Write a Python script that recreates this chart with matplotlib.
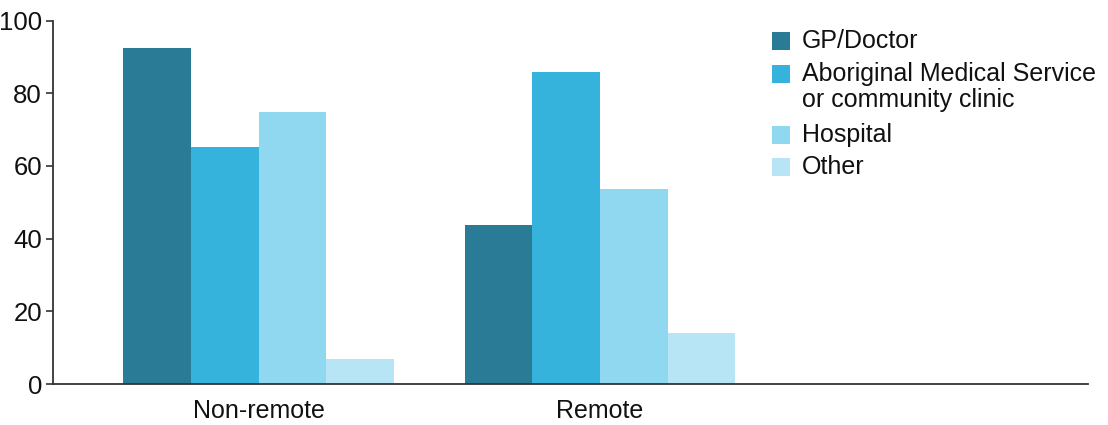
import matplotlib
matplotlib.use("Agg")
import matplotlib.pyplot as plt
import numpy as np
from matplotlib.patches import Rectangle

plt.rcParams['font.family'] = ['Liberation Sans', 'DejaVu Sans']

categories = ["Non-remote", "Remote"]
series_names = ["GP/Doctor", "Aboriginal Medical Service\nor community clinic", "Hospital", "Other"]
gp = [92.5, 43.8]
ams = [65.3, 85.9]
hospital = [74.9, 53.7]
other = [6.9, 14.0]
series_values = [gp, ams, hospital, other]
colors = ["#2a7c96", "#36b3dc", "#8fd8f0", "#b8e5f5"]
yticks = [0, 20, 40, 60, 80, 100]

W, H = 1108, 425
fig = plt.figure(figsize=(W / 100, H / 100), dpi=100)
ax = fig.add_axes([53 / W, 41 / H, (1088 - 53) / W, (404.5 - 41) / H])

x = np.arange(len(categories))
bw = 0.198
for i, (vals, c) in enumerate(zip(series_values, colors)):
    ax.bar(x + (i - 1.5) * bw, vals, width=bw, color=c, linewidth=0)

ax.set_xlim(-0.602, 2.429)
ax.set_ylim(0, 100)
ax.set_yticks(yticks)
ax.set_yticklabels([str(t) for t in yticks], fontsize=18.5, color="#111111")
ax.set_xticks(x)
ax.set_xticklabels(categories, fontsize=18, color="#111111")
ax.tick_params(axis='x', length=0, pad=11)
ax.tick_params(axis='y', length=5, width=1.2, pad=3, color="#333333")
for s in ["top", "right"]:
    ax.spines[s].set_visible(False)
for s in ["left", "bottom"]:
    ax.spines[s].set_color("#333333")
    ax.spines[s].set_linewidth(1.3)

# legend drawn manually
patch_rows = [41, 74, 135, 167]
text_rows = [41, 87, 135, 167]
for name, c, yp, yt in zip(series_names, colors, patch_rows, text_rows):
    fig.patches.append(Rectangle((772 / W, (H - yp - 9) / H), 18 / W, 18 / H,
                                 transform=fig.transFigure, color=c, lw=0))
    fig.text(802 / W, (H - yt) / H, name, fontsize=18, color="#111111",
             va="center", ha="left", linespacing=1.12,
             transform=fig.transFigure)

fig.savefig("out.png", dpi=100)
